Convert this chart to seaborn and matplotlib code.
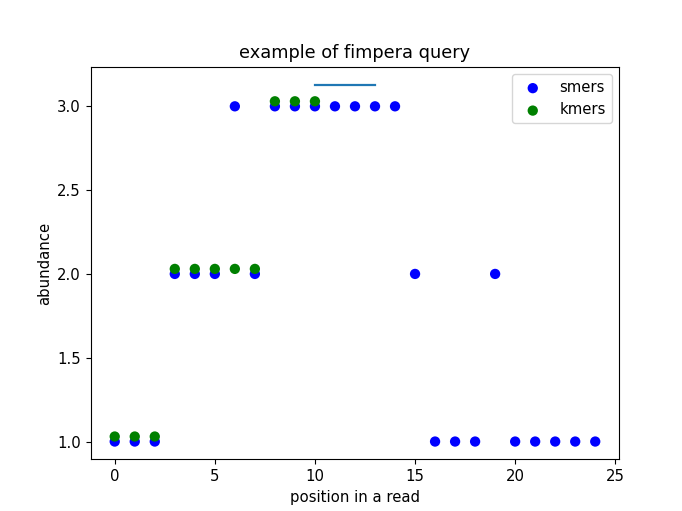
import matplotlib
matplotlib.use("Agg")
import matplotlib.pyplot as plt
import seaborn as sns
import pandas as pd

smer_pos = list(range(25))
smer_abund = [1, 1, 1, 2, 2, 2, 3, 2, 3, 3, 3, 3, 3, 3, 3, 2, 1, 1, 1, 2, 1, 1, 1, 1, 1]
kmer_pos = [0, 1, 2, 3, 4, 5, 6, 7, 8, 9, 10]
kmer_abund = [1.03, 1.03, 1.03, 2.03, 2.03, 2.03, 2.03, 2.03, 3.03, 3.03, 3.03]
line_x = [10, 13]
line_y = [3.13, 3.13]

fig = plt.figure(figsize=(6.82, 5.11), dpi=100)
ax = fig.add_axes([0.133, 0.101, 0.775, 0.7685])

sns.lineplot(x=line_x, y=line_y, ax=ax, color="C0", linewidth=1.6)
sns.scatterplot(x=smer_pos, y=smer_abund, ax=ax, color="blue", s=55,
                edgecolor="none", label="smers")
sns.scatterplot(x=kmer_pos, y=kmer_abund, ax=ax, color="green", s=55,
                edgecolor="none", label="kmers")

ax.set_xlim(-1.2, 25.2)
ax.set_ylim(0.8935, 3.2365)
ax.set_xticks([0, 5, 10, 15, 20, 25])
ax.set_yticks([1.0, 1.5, 2.0, 2.5, 3.0])
ax.set_title("example of fimpera query", fontsize=12.8, pad=6.5)
ax.set_xlabel("position in a read", fontsize=10.7)
ax.set_ylabel("abundance", fontsize=10.7)
ax.tick_params(labelsize=10.7)
ax.legend(loc="upper right", fontsize=10.7)

fig.savefig("out.png", dpi=100)
